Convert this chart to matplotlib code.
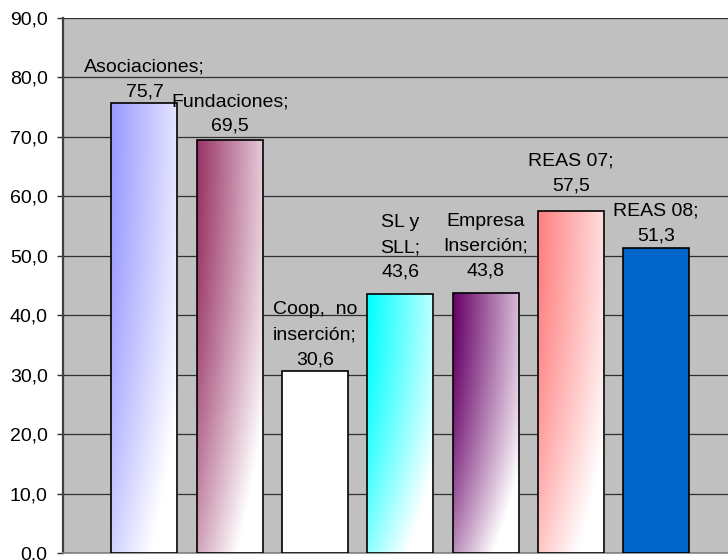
import numpy as np
import matplotlib
matplotlib.use("Agg")
import matplotlib.pyplot as plt
from matplotlib.colors import to_rgb

# data
categories = ["Asociaciones", "Fundaciones", "Coop.  no\ninserción", "SL y\nSLL",
              "Empresa\nInserción", "REAS 07", "REAS 08"]
values = [75.7, 69.5, 30.6, 43.6, 43.8, 57.5, 51.3]
bar_colors = ["#9999FF", "#993366", "#FFFFFF", "#00FFFF", "#660066", "#FF8080", "#0066CC"]
gradient = [True, True, False, True, True, True, False]
y_ticks = [0, 10, 20, 30, 40, 50, 60, 70, 80, 90]
# extra gap (pixels) between bar top and its label, as placed in the original
label_gap_px = [3, 5, 3, 13, 13, 17, 4]

plt.rcParams['font.family'] = ['Liberation Sans', 'DejaVu Sans']

fig = plt.figure(figsize=(7.28, 5.6), dpi=100)
fig.patch.set_facecolor('white')
ax = fig.add_axes([63 / 728, 7 / 560, 675 / 728, 535 / 560])
ax.set_facecolor('#C0C0C0')

x = np.arange(len(values))
width = 0.774
bars = ax.bar(x, values, width=width, color=bar_colors, edgecolor='black',
              linewidth=1.2, zorder=3)

# diagonal-ish gradient, full colour top left fading to white bottom right
fx = np.linspace(0, 1, 100)[None, :]
fy = np.linspace(0, 1, 200)[:, None]
t = np.clip(0.75 * fx + 0.55 * fy ** 2, 0, 1)
for bar, col, grad in zip(bars, bar_colors, gradient):
    if not grad:
        continue
    c = np.array(to_rgb(col))
    img = c[None, None, :] * (1 - t[..., None]) + t[..., None]
    bx, by = bar.get_x(), bar.get_y()
    im = ax.imshow(img, extent=(bx, bx + bar.get_width(), by, by + bar.get_height()),
                   origin='upper', aspect='auto', zorder=3.5, interpolation='bilinear')
    im.set_clip_path(bar)
    bar.set_facecolor('none')
    bar.set_zorder(4)

for xi, v, cat, gap in zip(x, values, categories, label_gap_px):
    label = f"{cat};\n{v:.1f}".replace('.', ',')
    ax.annotate(label, (xi, v), xytext=(0, gap * 0.72), textcoords='offset points',
                ha='center', va='bottom', fontsize=14, linespacing=1.6,
                multialignment='center', zorder=5)

ax.set_xlim(-0.955, 6.96)
ax.set_ylim(0, 90)
ax.set_yticks(y_ticks)
ax.set_yticklabels([f"{v:.1f}".replace('.', ',') for v in y_ticks], fontsize=14)
ax.set_xticks([])
ax.grid(axis='y', color='#303030', linewidth=0.9, zorder=1)
ax.tick_params(axis='y', length=4.5, width=1, color='#303030', pad=6.5)

for side in ['top', 'right']:
    ax.spines[side].set_visible(False)
ax.spines['left'].set_color('#404040')
ax.spines['left'].set_linewidth(1.6)
ax.spines['bottom'].set_color('#808080')
ax.spines['bottom'].set_linewidth(1.2)

fig.savefig('out.png', dpi=100)
